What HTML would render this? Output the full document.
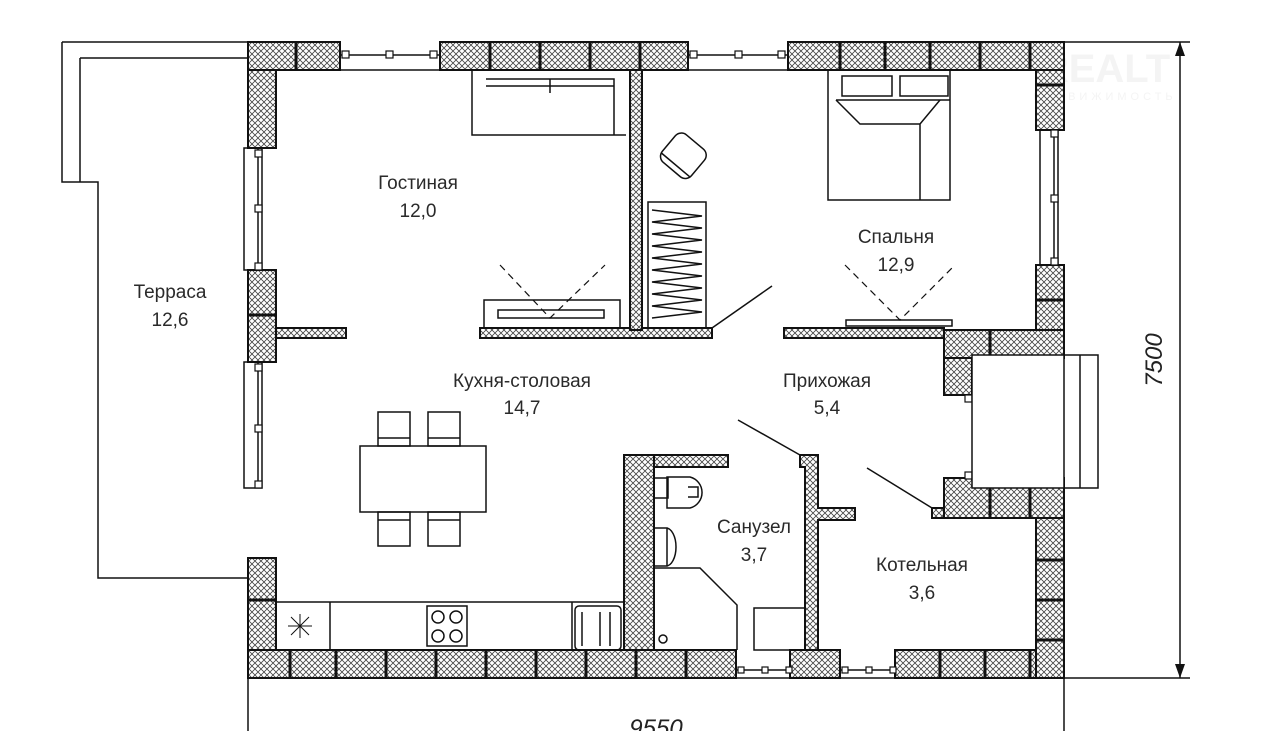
<!DOCTYPE html>
<html><head><meta charset="utf-8"><style>
html,body{margin:0;padding:0;background:#fff;}
svg{display:block;font-family:"Liberation Sans","DejaVu Sans",sans-serif;}
.t{font-size:19px;fill:#2a2a2a;text-anchor:middle;}
</style></head><body>
<svg width="1280" height="731" viewBox="0 0 1280 731" xmlns="http://www.w3.org/2000/svg">
<defs>
<pattern id="h" width="6" height="6" patternUnits="userSpaceOnUse">
<rect width="6" height="6" fill="#fff"/>
<path d="M0 0L6 6M6 0L0 6" stroke="#444" stroke-width="0.8"/>
</pattern>
</defs>
<text x="1105" y="82" font-size="40" font-weight="bold" fill="#f4f4f4" text-anchor="middle">REALT</text>
<text x="1105" y="100" font-size="11" fill="#f4f4f4" text-anchor="middle" letter-spacing="4">НЕДВИЖИМОСТЬ</text>
<g stroke="#111" stroke-width="1.5" fill="none">
<path d="M62 42H248M62 42V182H98V578H248M80 58H248M80 58V182" />
<g fill="url(#h)" stroke="#111" stroke-width="2">
<rect x="248" y="42" width="92" height="28"/>
<rect x="440" y="42" width="248" height="28"/>
<rect x="788" y="42" width="276" height="28"/>
<rect x="248" y="70" width="28" height="78"/>
<rect x="248" y="270" width="28" height="92"/>
<rect x="248" y="558" width="28" height="120"/>
<rect x="248" y="650" width="488" height="28"/>
<rect x="790" y="650" width="50" height="28"/>
<rect x="895" y="650" width="169" height="28"/>
<rect x="1036" y="70" width="28" height="60"/>
<rect x="1036" y="265" width="28" height="65"/>
<rect x="944" y="330" width="120" height="28"/>
<rect x="944" y="358" width="28" height="37"/>
<rect x="944" y="478" width="120" height="40"/>
<rect x="1036" y="518" width="28" height="160"/>
<rect x="276" y="328" width="70" height="10"/>
<rect x="480" y="328" width="232" height="10"/>
<rect x="630" y="70" width="12" height="260"/>
<rect x="784" y="328" width="160" height="10"/>
<rect x="624" y="455" width="30" height="195"/>
<rect x="654" y="455" width="74" height="12"/>
<path d="M800 455H818V508H855V520H818V650H805V467H800Z"/>
<path d="M932 508H944V518H932Z"/>
</g>
<g stroke="#111" stroke-width="3">
<path d="M296 42V70M490 42V70M540 42V70M590 42V70M640 42V70M840 42V70M885 42V70M930 42V70M980 42V70M1030 42V70"/>
<path d="M248 315H276M248 600H276M290 650V678M336 650V678M386 650V678M436 650V678M486 650V678M536 650V678M586 650V678M636 650V678M686 650V678M940 650V678M985 650V678M1030 650V678M1036 560H1064M1036 600H1064M1036 640H1064M1036 85H1064M1036 300H1064M990 330V358M990 478V518M1030 478V518"/>
</g>
<path d="M340 42V70H440V42M340 55H440M688 42V70H788V42M688 55H788"/>
<path d="M244 148H262V270H244ZM258 148V270M244 362H262V488H244ZM258 362V488"/>
<path d="M1040 130H1058V265H1040ZM1054 130V265"/>
<path d="M736 650V678H790V650M736 670H790M840 650V678H895V650M840 670H895"/>
<g fill="#fff" stroke-width="1.2">
<rect x="342" y="51" width="7" height="7"/><rect x="386" y="51" width="7" height="7"/><rect x="430" y="51" width="7" height="7"/>
<rect x="690" y="51" width="7" height="7"/><rect x="735" y="51" width="7" height="7"/><rect x="778" y="51" width="7" height="7"/>
<rect x="255" y="150" width="7" height="7"/><rect x="255" y="205" width="7" height="7"/><rect x="255" y="263" width="7" height="7"/>
<rect x="255" y="364" width="7" height="7"/><rect x="255" y="425" width="7" height="7"/><rect x="255" y="481" width="7" height="7"/>
<rect x="1051" y="130" width="7" height="7"/><rect x="1051" y="195" width="7" height="7"/><rect x="1051" y="258" width="7" height="7"/>
<rect x="738" y="667" width="6" height="6"/><rect x="762" y="667" width="6" height="6"/><rect x="786" y="667" width="6" height="6"/>
<rect x="842" y="667" width="6" height="6"/><rect x="866" y="667" width="6" height="6"/><rect x="890" y="667" width="6" height="6"/>
<rect x="965" y="395" width="7" height="7"/><rect x="965" y="472" width="7" height="7"/>
</g>
<rect x="972" y="355" width="92" height="133" fill="#fff"/>
<path d="M1064 355H1098V488H1064M1080 355V488"/>
<path d="M472 70V135H626M486 79H614V135M486 86H614M550 79V93"/>
<path d="M484 328V300H620V328M498 318H604V310H498Z"/>
<path d="M500 265L550 318L605 265" stroke-dasharray="7 5" stroke-width="1.2"/>
<g transform="rotate(40 684 155)"><rect x="665" y="138" width="38" height="36" rx="8"/><path d="M665 168H703"/></g>
<rect x="648" y="202" width="58" height="126"/>
<path d="M652 210L702 216L652 222L702 228L652 234L702 240L652 246L702 252L652 258L702 264L652 270L702 276L652 282L702 288L652 294L702 300L652 306L702 312L652 318"/>
<path d="M712 328L772 286"/>
<path d="M828 70V200H950V70M836 100H950M842 76H892V96H842ZM900 76H948V96H900Z"/>
<path d="M836 100L860 124H920L940 100M920 124V200"/>
<rect x="846" y="320" width="106" height="6"/>
<path d="M845 265L900 320L955 265" stroke-dasharray="7 5" stroke-width="1.2"/>
<rect x="360" y="446" width="126" height="66"/>
<rect x="378" y="412" width="32" height="34"/><rect x="428" y="412" width="32" height="34"/>
<rect x="378" y="512" width="32" height="34"/><rect x="428" y="512" width="32" height="34"/>
<path d="M378 438H410M428 438H460M378 520H410M428 520H460"/>
<path d="M276 602H624M330 602V650M572 602V650"/>
<path d="M288 626H312M300 614V638M291 617L309 635M309 617L291 635" stroke-width="1"/>
<rect x="427" y="606" width="40" height="40"/>
<circle cx="438" cy="617" r="6"/><circle cx="456" cy="617" r="6"/><circle cx="438" cy="636" r="6"/><circle cx="456" cy="636" r="6"/>
<rect x="575" y="606" width="46" height="44" rx="4"/><path d="M582 612V646M600 612V646M610 612V646"/>
<path d="M654 478H668V498H654M667 477V508H690A16 16 0 0 0 690 477ZM688 487H698V497H688"/>
<path d="M654 528H667V566H654M666 528A10 19 0 0 1 666 566"/>
<path d="M654 568H700L737 605V650"/>
<circle cx="663" cy="639" r="4"/>
<rect x="754" y="608" width="51" height="42"/>
<path d="M738 420L800 455M867 468L932 508"/>
<path d="M1064 42H1190M1064 678H1190M1180 42V678M248 678V731M1064 678V731"/>
</g>
<path d="M1180 42L1175 56H1185ZM1180 678L1175 664H1185Z" fill="#111"/>
<text class="t" x="418" y="189">Гостиная</text><text class="t" x="418" y="217">12,0</text>
<text class="t" x="170" y="298">Терраса</text><text class="t" x="170" y="326">12,6</text>
<text class="t" x="896" y="243">Спальня</text><text class="t" x="896" y="271">12,9</text>
<text class="t" x="522" y="387">Кухня-столовая</text><text class="t" x="522" y="414">14,7</text>
<text class="t" x="827" y="387">Прихожая</text><text class="t" x="827" y="414">5,4</text>
<text class="t" x="754" y="533">Санузел</text><text class="t" x="754" y="561">3,7</text>
<text class="t" x="922" y="571">Котельная</text><text class="t" x="922" y="599">3,6</text>
<text x="1162" y="360" font-size="24" font-style="italic" fill="#222" text-anchor="middle" transform="rotate(-90 1162 360)">7500</text>
<text x="656" y="736" font-size="24" font-style="italic" fill="#222" text-anchor="middle">9550</text>
</svg>
</body></html>
